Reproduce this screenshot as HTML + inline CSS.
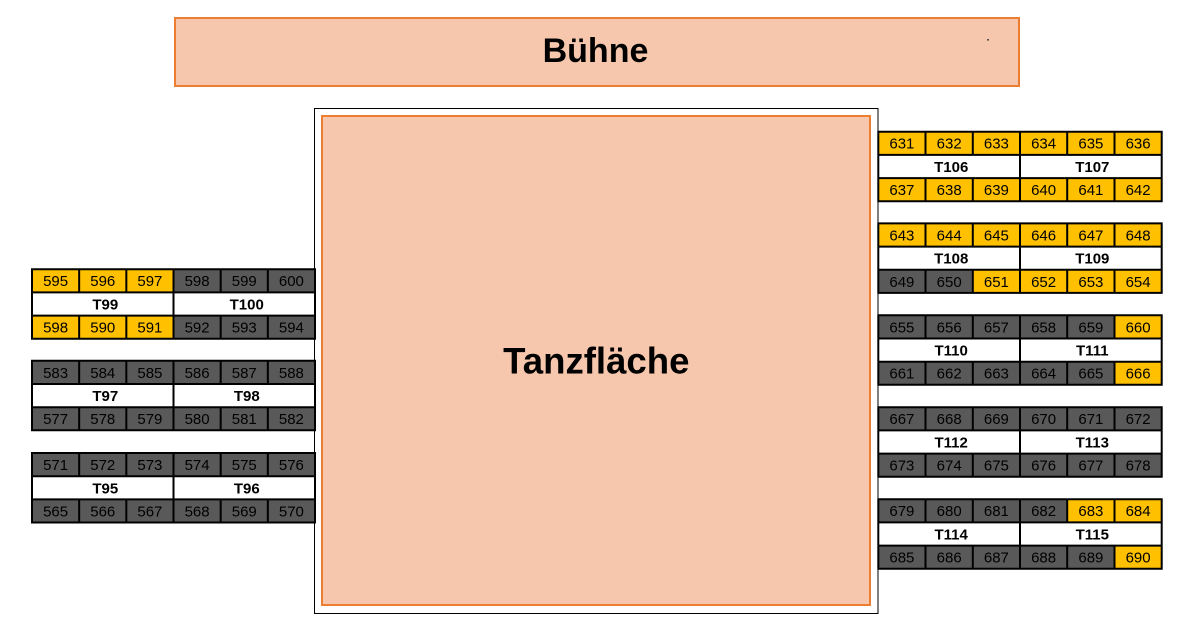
<!DOCTYPE html>
<html><head><meta charset="utf-8"><style>
html,body{margin:0;padding:0;background:#fff;}
svg{display:block;}
.y{fill:#FFC000}.g{fill:#595959}.w{fill:#fff}
.n{font-family:"Liberation Sans",Arial,sans-serif;font-size:15px;fill:#000;text-anchor:middle}
.t{font-family:"Liberation Sans",Arial,sans-serif;font-size:15px;font-weight:bold;fill:#000;text-anchor:middle}
.big{font-family:"Liberation Sans",Arial,sans-serif;font-weight:bold;fill:#000;text-anchor:middle}
.ln{fill:none;stroke:#000;stroke-width:2;stroke-linecap:square}
</style></head><body>
<svg width="1200" height="632" viewBox="0 0 1200 632" xmlns="http://www.w3.org/2000/svg">
<defs>
<path id="gl" class="ln" d="M32 0H315M32 23.2H315M32 46.4H315M32 69.5H315M32 0V69.5M173.5 0V69.5M315 0V69.5M79.17 0V23.2M126.33 0V23.2M220.67 0V23.2M267.83 0V23.2M79.17 46.4V69.5M126.33 46.4V69.5M220.67 46.4V69.5M267.83 46.4V69.5"/>
<path id="gr" class="ln" d="M878.3 0H1161.7M878.3 23.2H1161.7M878.3 46.4H1161.7M878.3 69.5H1161.7M878.3 0V69.5M1020 0V69.5M1161.7 0V69.5M925.5 0V23.2M972.8 0V23.2M1067.2 0V23.2M1114.5 0V23.2M925.5 46.4V69.5M972.8 46.4V69.5M1067.2 46.4V69.5M1114.5 46.4V69.5"/>
</defs>

<!-- Stage -->
<rect x="175" y="18" width="844" height="68" fill="#F6C6AD" stroke="#ED7D31" stroke-width="2"/>
<rect x="987.3" y="39" width="1.6" height="1.6" fill="#333"/>
<text class="big" x="595.5" y="62" font-size="34">Bühne</text>

<!-- Dance floor -->
<rect x="314.5" y="108.5" width="563.5" height="505" fill="#fff" stroke="#000" stroke-width="1"/>
<rect x="322" y="116" width="548" height="489" fill="#F6C6AD" stroke="#ED7D31" stroke-width="2"/>
<text class="big" x="596.3" y="373.5" font-size="36.6">Tanzfläche</text>

<!-- LEFT A -->
<g transform="translate(0,269.2)">
<rect class="y" x="32" y="0" width="47.17" height="23.2"/><rect class="y" x="79.17" y="0" width="47.17" height="23.2"/><rect class="y" x="126.33" y="0" width="47.17" height="23.2"/><rect class="g" x="173.5" y="0" width="47.17" height="23.2"/><rect class="g" x="220.67" y="0" width="47.17" height="23.2"/><rect class="g" x="267.83" y="0" width="47.17" height="23.2"/>
<rect class="w" x="32" y="23.2" width="283" height="23.2"/>
<rect class="y" x="32" y="46.4" width="47.17" height="23.1"/><rect class="y" x="79.17" y="46.4" width="47.17" height="23.1"/><rect class="y" x="126.33" y="46.4" width="47.17" height="23.1"/><rect class="g" x="173.5" y="46.4" width="47.17" height="23.1"/><rect class="g" x="220.67" y="46.4" width="47.17" height="23.1"/><rect class="g" x="267.83" y="46.4" width="47.17" height="23.1"/>
<use href="#gl"/>
<text class="n" x="55.6" y="17">595</text><text class="n" x="102.75" y="17">596</text><text class="n" x="149.9" y="17">597</text><text class="n" x="197.1" y="17">598</text><text class="n" x="244.25" y="17">599</text><text class="n" x="291.4" y="17">600</text>
<text class="t" x="105.25" y="40.3">T99</text><text class="t" x="246.75" y="40.3">T100</text>
<text class="n" x="55.6" y="63.4">598</text><text class="n" x="102.75" y="63.4">590</text><text class="n" x="149.9" y="63.4">591</text><text class="n" x="197.1" y="63.4">592</text><text class="n" x="244.25" y="63.4">593</text><text class="n" x="291.4" y="63.4">594</text>
</g>

<!-- LEFT B -->
<g transform="translate(0,360.8)">
<rect class="g" x="32" y="0" width="283" height="23.2"/>
<rect class="w" x="32" y="23.2" width="283" height="23.2"/>
<rect class="g" x="32" y="46.4" width="283" height="23.1"/>
<use href="#gl"/>
<text class="n" x="55.6" y="17">583</text><text class="n" x="102.75" y="17">584</text><text class="n" x="149.9" y="17">585</text><text class="n" x="197.1" y="17">586</text><text class="n" x="244.25" y="17">587</text><text class="n" x="291.4" y="17">588</text>
<text class="t" x="105.25" y="40.3">T97</text><text class="t" x="246.75" y="40.3">T98</text>
<text class="n" x="55.6" y="63.4">577</text><text class="n" x="102.75" y="63.4">578</text><text class="n" x="149.9" y="63.4">579</text><text class="n" x="197.1" y="63.4">580</text><text class="n" x="244.25" y="63.4">581</text><text class="n" x="291.4" y="63.4">582</text>
</g>

<!-- LEFT C -->
<g transform="translate(0,453)">
<rect class="g" x="32" y="0" width="283" height="23.2"/>
<rect class="w" x="32" y="23.2" width="283" height="23.2"/>
<rect class="g" x="32" y="46.4" width="283" height="23.1"/>
<use href="#gl"/>
<text class="n" x="55.6" y="17">571</text><text class="n" x="102.75" y="17">572</text><text class="n" x="149.9" y="17">573</text><text class="n" x="197.1" y="17">574</text><text class="n" x="244.25" y="17">575</text><text class="n" x="291.4" y="17">576</text>
<text class="t" x="105.25" y="40.3">T95</text><text class="t" x="246.75" y="40.3">T96</text>
<text class="n" x="55.6" y="63.4">565</text><text class="n" x="102.75" y="63.4">566</text><text class="n" x="149.9" y="63.4">567</text><text class="n" x="197.1" y="63.4">568</text><text class="n" x="244.25" y="63.4">569</text><text class="n" x="291.4" y="63.4">570</text>
</g>

<!-- RIGHT 1 -->
<g transform="translate(0,131.7)">
<rect class="y" x="878.3" y="0" width="283.4" height="23.2"/>
<rect class="w" x="878.3" y="23.2" width="283.4" height="23.2"/>
<rect class="y" x="878.3" y="46.4" width="283.4" height="23.1"/>
<use href="#gr"/>
<text class="n" x="901.9" y="17">631</text><text class="n" x="949.2" y="17">632</text><text class="n" x="996.4" y="17">633</text><text class="n" x="1043.6" y="17">634</text><text class="n" x="1090.9" y="17">635</text><text class="n" x="1138.1" y="17">636</text>
<text class="t" x="951.2" y="40.3">T106</text><text class="t" x="1092.3" y="40.3">T107</text>
<text class="n" x="901.9" y="63.4">637</text><text class="n" x="949.2" y="63.4">638</text><text class="n" x="996.4" y="63.4">639</text><text class="n" x="1043.6" y="63.4">640</text><text class="n" x="1090.9" y="63.4">641</text><text class="n" x="1138.1" y="63.4">642</text>
</g>

<!-- RIGHT 2 -->
<g transform="translate(0,223.4)">
<rect class="y" x="878.3" y="0" width="283.4" height="23.2"/>
<rect class="w" x="878.3" y="23.2" width="283.4" height="23.2"/>
<rect class="y" x="878.3" y="46.4" width="283.4" height="23.1"/>
<rect class="g" x="878.3" y="46.4" width="94.5" height="23.1"/>
<use href="#gr"/>
<text class="n" x="901.9" y="17">643</text><text class="n" x="949.2" y="17">644</text><text class="n" x="996.4" y="17">645</text><text class="n" x="1043.6" y="17">646</text><text class="n" x="1090.9" y="17">647</text><text class="n" x="1138.1" y="17">648</text>
<text class="t" x="951.2" y="40.3">T108</text><text class="t" x="1092.3" y="40.3">T109</text>
<text class="n" x="901.9" y="63.4">649</text><text class="n" x="949.2" y="63.4">650</text><text class="n" x="996.4" y="63.4">651</text><text class="n" x="1043.6" y="63.4">652</text><text class="n" x="1090.9" y="63.4">653</text><text class="n" x="1138.1" y="63.4">654</text>
</g>

<!-- RIGHT 3 -->
<g transform="translate(0,315.3)">
<rect class="g" x="878.3" y="0" width="283.4" height="23.2"/>
<rect class="y" x="1114.5" y="0" width="47.2" height="23.2"/>
<rect class="w" x="878.3" y="23.2" width="283.4" height="23.2"/>
<rect class="g" x="878.3" y="46.4" width="283.4" height="23.1"/>
<rect class="y" x="1114.5" y="46.4" width="47.2" height="23.1"/>
<use href="#gr"/>
<text class="n" x="901.9" y="17">655</text><text class="n" x="949.2" y="17">656</text><text class="n" x="996.4" y="17">657</text><text class="n" x="1043.6" y="17">658</text><text class="n" x="1090.9" y="17">659</text><text class="n" x="1138.1" y="17">660</text>
<text class="t" x="951.2" y="40.3">T110</text><text class="t" x="1092.3" y="40.3">T111</text>
<text class="n" x="901.9" y="63.4">661</text><text class="n" x="949.2" y="63.4">662</text><text class="n" x="996.4" y="63.4">663</text><text class="n" x="1043.6" y="63.4">664</text><text class="n" x="1090.9" y="63.4">665</text><text class="n" x="1138.1" y="63.4">666</text>
</g>

<!-- RIGHT 4 -->
<g transform="translate(0,407.2)">
<rect class="g" x="878.3" y="0" width="283.4" height="23.2"/>
<rect class="w" x="878.3" y="23.2" width="283.4" height="23.2"/>
<rect class="g" x="878.3" y="46.4" width="283.4" height="23.1"/>
<use href="#gr"/>
<text class="n" x="901.9" y="17">667</text><text class="n" x="949.2" y="17">668</text><text class="n" x="996.4" y="17">669</text><text class="n" x="1043.6" y="17">670</text><text class="n" x="1090.9" y="17">671</text><text class="n" x="1138.1" y="17">672</text>
<text class="t" x="951.2" y="40.3">T112</text><text class="t" x="1092.3" y="40.3">T113</text>
<text class="n" x="901.9" y="63.4">673</text><text class="n" x="949.2" y="63.4">674</text><text class="n" x="996.4" y="63.4">675</text><text class="n" x="1043.6" y="63.4">676</text><text class="n" x="1090.9" y="63.4">677</text><text class="n" x="1138.1" y="63.4">678</text>
</g>

<!-- RIGHT 5 -->
<g transform="translate(0,499.2)">
<rect class="g" x="878.3" y="0" width="283.4" height="23.2"/>
<rect class="y" x="1067.2" y="0" width="94.5" height="23.2"/>
<rect class="w" x="878.3" y="23.2" width="283.4" height="23.2"/>
<rect class="g" x="878.3" y="46.4" width="283.4" height="23.1"/>
<rect class="y" x="1114.5" y="46.4" width="47.2" height="23.1"/>
<use href="#gr"/>
<text class="n" x="901.9" y="17">679</text><text class="n" x="949.2" y="17">680</text><text class="n" x="996.4" y="17">681</text><text class="n" x="1043.6" y="17">682</text><text class="n" x="1090.9" y="17">683</text><text class="n" x="1138.1" y="17">684</text>
<text class="t" x="951.2" y="40.3">T114</text><text class="t" x="1092.3" y="40.3">T115</text>
<text class="n" x="901.9" y="63.4">685</text><text class="n" x="949.2" y="63.4">686</text><text class="n" x="996.4" y="63.4">687</text><text class="n" x="1043.6" y="63.4">688</text><text class="n" x="1090.9" y="63.4">689</text><text class="n" x="1138.1" y="63.4">690</text>
</g>
</svg>
</body></html>
